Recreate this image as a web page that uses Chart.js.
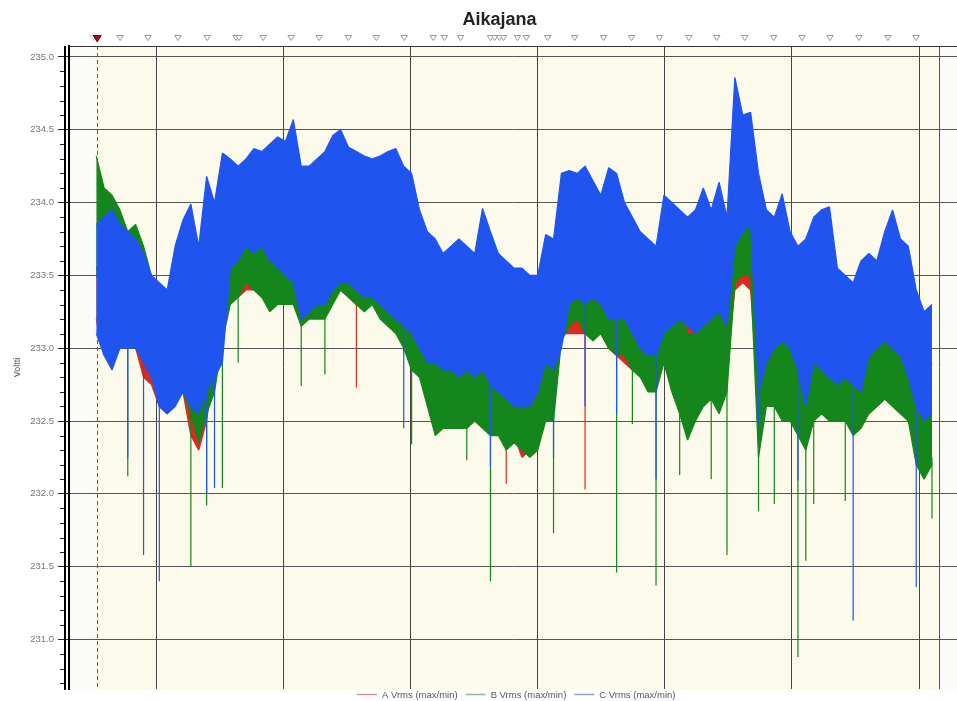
<!DOCTYPE html>
<html lang="fi">
<head>
<meta charset="utf-8">
<title>Aikajana</title>
<script src="https://cdn.jsdelivr.net/npm/chart.js@4.4.1/dist/chart.umd.min.js"></script>
<style>
  html, body { margin: 0; padding: 0; background: #ffffff; }
  #box { position: relative; width: 957px; height: 701px; }
</style>
</head>
<body>
<div id="box"><canvas id="chart" width="957" height="701"></canvas></div>
<script>
// Phase RMS voltages: one max/min pair per ~15 min interval, time in hours
const firstSample = 10.12;
const sampleStep = 0.248;

const aMax = [233.55,233.60,233.50,233.40,233.50,233.40,233.30,233.20,233.10,233.00,
  233.10,233.20,233.10,232.90,233.10,233.50,233.70,233.85,233.80,233.85,
  233.80,233.75,233.70,233.70,233.75,233.80,233.60,233.70,233.70,233.70,
  233.75,233.80,233.75,233.70,233.65,233.65,233.70,233.60,233.55,233.50,
  233.40,233.45,233.35,233.30,233.25,233.35,233.40,233.30,233.20,233.15,
  233.10,233.00,232.90,232.95,233.00,232.95,233.10,233.20,233.30,233.60,
  233.65,233.60,233.60,233.55,233.50,233.45,233.40,233.35,233.30,233.30,
  233.25,233.20,233.40,233.45,233.35,233.30,233.25,233.40,233.50,233.70,
  233.60,233.90,233.95,234.00,233.50,233.30,233.50,233.55,233.35,233.20,
  233.30,233.40,233.30,233.25,233.15,233.10,233.05,233.10,233.00,233.05,
  233.10,233.15,233.05,233.00,232.90,232.80,232.75];
const aMin = [233.20,232.95,233.00,233.10,233.05,233.00,232.80,232.75,232.60,232.55,
  232.70,232.70,232.40,232.30,232.50,232.90,233.10,233.40,233.35,233.40,
  233.40,233.35,233.30,233.35,233.35,233.30,233.20,233.30,233.30,233.25,
  233.35,233.40,233.35,233.30,233.30,233.35,233.25,233.20,233.15,233.05,
  232.95,232.90,232.80,232.75,232.70,232.75,232.70,232.75,232.70,232.65,
  232.50,232.45,232.40,232.40,232.25,232.30,232.40,232.50,232.60,233.10,
  233.10,233.10,233.10,233.10,233.10,233.00,232.95,232.90,232.85,232.85,
  232.80,232.80,232.95,232.90,232.85,232.80,232.75,232.80,232.85,232.90,
  232.90,233.40,233.45,233.40,232.60,232.70,232.80,232.75,232.70,232.55,
  232.60,232.70,232.70,232.65,232.60,232.60,232.55,232.60,232.55,232.60,
  232.65,232.70,232.65,232.60,232.40,232.30,232.25];
// short dips below the band: [interval index, lowest value]
const aDips = [[33,232.73],[52,232.07],[62,232.03]];

const bMax = [234.32,234.10,234.05,233.95,233.80,233.85,233.70,233.50,233.30,233.20,
  233.30,233.35,233.30,233.00,233.30,233.60,233.90,234.00,234.00,234.05,
  233.95,233.90,233.85,233.85,233.90,234.00,233.80,233.85,233.90,233.90,
  233.95,234.00,233.95,233.90,233.85,233.80,233.75,233.70,233.65,233.60,
  233.50,233.30,233.10,233.00,232.95,232.90,232.90,232.90,232.95,233.00,
  233.00,232.90,232.85,232.80,233.20,233.10,233.00,233.20,233.30,233.70,
  233.90,233.80,233.85,233.70,233.65,233.60,233.55,233.45,233.40,233.30,
  233.20,233.15,233.40,233.50,233.30,233.10,233.10,233.30,233.35,233.60,
  233.50,234.19,234.00,234.05,233.60,233.40,233.30,233.35,233.20,233.10,
  233.20,233.25,233.20,233.10,233.00,232.90,232.90,232.95,233.10,233.15,
  233.20,233.20,233.15,233.05,232.95,232.80,232.90];
const bMin = [233.50,233.40,233.30,233.25,233.20,233.20,233.00,232.90,232.60,232.60,
  232.65,232.70,232.55,232.35,232.55,232.70,233.05,233.30,233.35,233.45,
  233.40,233.35,233.25,233.30,233.30,233.30,233.15,233.20,233.20,233.20,
  233.30,233.40,233.35,233.30,233.25,233.30,233.20,233.15,233.10,233.00,
  232.85,232.80,232.60,232.40,232.45,232.45,232.45,232.45,232.50,232.45,
  232.40,232.40,232.30,232.35,232.30,232.25,232.30,232.50,232.50,233.05,
  233.15,233.20,233.10,233.05,233.10,233.00,232.95,232.95,232.85,232.80,
  232.70,232.70,232.90,232.70,232.55,232.37,232.50,232.60,232.65,232.55,
  232.70,233.45,233.50,233.50,232.25,232.60,232.60,232.50,232.50,232.40,
  232.30,232.50,232.55,232.50,232.50,232.50,232.40,232.45,232.55,232.60,
  232.65,232.60,232.55,232.50,232.20,232.10,232.20];
const bDips = [[4,232.12],[12,231.50],[14,231.92],[16,232.04],[18,232.90],[26,232.74],
  [29,232.82],[40,232.34],[47,232.23],[50,231.40],[58,231.73],[66,231.46],[68,232.48],
  [71,231.37],[74,232.13],[78,232.10],[80,231.58],[84,231.88],[86,231.93],[89,230.88],
  [90,231.54],[91,231.93],[95,231.95],[106,231.83]];

const cMax = [233.85,233.90,233.95,233.85,233.80,233.75,233.65,233.50,233.45,233.40,
  233.70,233.88,233.99,233.70,234.18,234.00,234.34,234.30,234.25,234.30,
  234.37,234.35,234.40,234.45,234.42,234.57,234.25,234.25,234.30,234.35,
  234.46,234.50,234.38,234.35,234.32,234.30,234.32,234.35,234.37,234.25,
  234.20,233.95,233.80,233.75,233.65,233.70,233.75,233.70,233.65,233.96,
  233.80,233.65,233.60,233.55,233.55,233.50,233.50,233.78,233.75,234.20,
  234.22,234.20,234.25,234.15,234.05,234.24,234.20,234.00,233.90,233.80,
  233.75,233.70,234.05,234.00,233.95,233.90,233.95,234.10,233.95,234.14,
  233.90,234.86,234.60,234.62,234.20,233.95,233.90,234.06,233.80,233.70,
  233.75,233.90,233.95,233.97,233.55,233.50,233.45,233.60,233.65,233.60,
  233.80,233.95,233.75,233.70,233.40,233.25,233.30];
const cMin = [233.10,232.95,232.85,233.00,233.00,233.00,232.90,232.80,232.60,232.55,
  232.60,232.70,232.60,232.55,232.70,232.80,232.90,233.55,233.60,233.70,
  233.65,233.70,233.60,233.55,233.50,233.45,233.20,233.25,233.30,233.30,
  233.40,233.45,233.45,233.40,233.35,233.35,233.30,233.25,233.20,233.15,
  233.10,233.00,232.90,232.90,232.85,232.85,232.80,232.85,232.80,232.85,
  232.75,232.70,232.65,232.60,232.60,232.60,232.70,232.90,232.85,233.00,
  233.30,233.35,233.30,233.35,233.30,233.20,233.20,233.20,233.10,233.00,
  232.95,232.95,233.10,233.15,233.20,233.15,233.10,233.15,233.20,233.25,
  233.15,233.70,233.80,233.85,232.70,232.90,233.00,233.05,233.00,232.85,
  232.60,232.90,232.85,232.80,232.75,232.80,232.75,232.70,232.95,233.00,
  233.05,233.00,232.95,232.80,232.60,232.50,232.55];
const cDips = [[4,232.25],[6,231.58],[8,231.40],[14,232.00],[15,232.04],[39,232.45],
  [50,232.19],[58,232.25],[62,232.60],[66,232.55],[71,232.10],[84,232.48],[89,232.09],
  [96,231.13],[104,231.36]];

const seriesNames = ['A Vrms (max/min)', 'B Vrms (max/min)', 'C Vrms (max/min)'];
const yTickValues = [231.0, 231.5, 232.0, 232.5, 233.0, 233.5, 234.0, 234.5, 235.0];
const gridHours = [12, 16, 20, 24, 28, 32, 36];
const eventHours = [10.01, 10.87, 11.75, 12.69, 13.61, 14.52, 14.61, 15.37, 16.25, 17.13,
  18.05, 18.93, 19.81, 20.72, 21.07, 21.58, 22.52, 22.65, 22.80, 22.93, 23.37, 23.65,
  24.32, 25.17, 26.08, 26.96, 27.84, 28.76, 29.64, 30.52, 31.43, 32.32, 33.20, 34.11,
  35.02, 35.91];
const activeEvent = 10.15;
const cursorHour = 10.13;
const recordStart = 10.11;
const recordEnd = 36.63;

const hourOf = i => firstSample + i * sampleStep;

function trace(vals) {
  return vals.map((v, i) => ({ x: hourOf(i), y: v }));
}

// vertical strokes from the band floor down to each dip
function dipTrace(dips, floor) {
  const pts = [];
  dips.forEach(([i, v]) => {
    const t = hourOf(i);
    pts.push({ x: t, y: floor[i] + 0.05 }, { x: t, y: v }, { x: t, y: null });
  });
  return pts;
}

const lineColors = ['#dc2a20', '#15861b', '#1f55ee'];
const legendColors = ['#d49a96', '#8fbc8f', '#8e9cc8'];
const FONT = '"Liberation Sans", Arial, sans-serif';

const backdrop = {
  id: 'backdrop',
  beforeDraw(chart) {
    const { ctx, chartArea: a, scales: { x } } = chart;
    ctx.save();
    ctx.fillStyle = '#ffffff';
    ctx.fillRect(0, 0, chart.width, chart.height);
    ctx.fillStyle = '#fbfbf7';
    ctx.fillRect(a.left, a.top, a.right - a.left, a.bottom - a.top);
    const x0 = x.getPixelForValue(recordStart);
    const x1 = x.getPixelForValue(recordEnd);
    ctx.fillStyle = '#fcfaea';
    ctx.fillRect(x0, a.top, x1 - x0, a.bottom - a.top);
    // end of recording
    ctx.strokeStyle = '#555';
    ctx.lineWidth = 1;
    ctx.beginPath();
    ctx.moveTo(Math.round(x1) + 0.5, a.top);
    ctx.lineTo(Math.round(x1) + 0.5, a.bottom);
    ctx.stroke();
    ctx.restore();
  }
};

const overlay = {
  id: 'overlay',
  afterDatasetsDraw(chart) {
    const { ctx, chartArea: a, scales: { x, y } } = chart;
    ctx.save();
    // cursor
    const cx = Math.round(x.getPixelForValue(cursorHour)) + 0.5;
    ctx.strokeStyle = '#c0392b';
    ctx.lineWidth = 1;
    ctx.setLineDash([4, 3]);
    ctx.beginPath();
    ctx.moveTo(cx, a.top);
    ctx.lineTo(cx, a.bottom);
    ctx.stroke();
    ctx.setLineDash([]);
    // top frame line
    ctx.strokeStyle = '#333';
    ctx.beginPath();
    ctx.moveTo(a.left, a.top + 0.5);
    ctx.lineTo(a.right, a.top + 0.5);
    ctx.stroke();
    // minor ticks every 0.1 V
    ctx.strokeStyle = '#222';
    for (let k = 2307; k <= 2350; k++) {
      if (k % 5 === 0) continue;
      const py = Math.round(y.getPixelForValue(k / 10)) + 0.5;
      ctx.beginPath();
      ctx.moveTo(a.left - 9, py);
      ctx.lineTo(a.left - 4, py);
      ctx.stroke();
    }
    // double axis rule
    ctx.fillStyle = '#000';
    ctx.fillRect(a.left - 5, a.top, 2, a.bottom - a.top + 1);
    ctx.restore();
  },
  afterDraw(chart) {
    const { ctx, scales: { x } } = chart;
    ctx.save();
    // event markers
    const tri = (hx, size, fill, stroke) => {
      const px = x.getPixelForValue(hx);
      ctx.beginPath();
      ctx.moveTo(px - size, 35.5);
      ctx.lineTo(px + size, 35.5);
      ctx.lineTo(px, 35.5 + size * 1.6);
      ctx.closePath();
      ctx.fillStyle = fill;
      ctx.fill();
      ctx.strokeStyle = stroke;
      ctx.lineWidth = 1;
      ctx.stroke();
    };
    eventHours.forEach((h, i) => tri(h, 3.2, '#ffffff', i === 0 ? '#cfcfcf' : '#9a9a9a'));
    tri(activeEvent, 4, '#a40d0d', '#7a0000');
    // title
    ctx.fillStyle = '#222';
    ctx.font = 'bold 18px ' + FONT;
    ctx.textAlign = 'center';
    ctx.textBaseline = 'alphabetic';
    ctx.fillText('Aikajana', 499.5, 24.6);
    // legend
    ctx.font = '9.5px ' + FONT;
    ctx.textAlign = 'left';
    ctx.textBaseline = 'middle';
    let lx = 357;
    const ly = 694;
    seriesNames.forEach((name, i) => {
      ctx.strokeStyle = legendColors[i];
      ctx.lineWidth = 1.5;
      ctx.beginPath();
      ctx.moveTo(lx, ly + 0.5);
      ctx.lineTo(lx + 20, ly + 0.5);
      ctx.stroke();
      ctx.fillStyle = '#555';
      ctx.fillText(name, lx + 25, ly + 1);
      lx += 25 + ctx.measureText(name).width + 8;
    });
    ctx.restore();
  }
};

const common = { pointRadius: 0, tension: 0, borderJoinStyle: 'bevel' };
function phase(i, maxVals, minVals, dips, order) {
  const c = lineColors[i];
  return [
    Object.assign({ label: seriesNames[i], data: trace(maxVals), borderColor: c,
      borderWidth: 1.2, backgroundColor: c, fill: '+1', order: order }, common),
    Object.assign({ label: seriesNames[i], data: trace(minVals), borderColor: c,
      borderWidth: 1.2, fill: false, order: order }, common),
    Object.assign({ label: seriesNames[i], data: dipTrace(dips, minVals), borderColor: c,
      borderWidth: 1.2, fill: false, spanGaps: false, order: order }, common)
  ];
}

new Chart(document.getElementById('chart'), {
  type: 'line',
  data: {
    datasets: [
      ...phase(0, aMax, aMin, aDips, 3),
      ...phase(1, bMax, bMin, bDips, 2),
      ...phase(2, cMax, cMin, cDips, 1)
    ]
  },
  options: {
    responsive: false,
    animation: false,
    devicePixelRatio: 1,
    events: [],
    layout: { padding: { top: 46, bottom: 12, left: 0, right: 0 } },
    plugins: {
      legend: { display: false },
      title: { display: false },
      tooltip: { enabled: false },
      filler: { propagate: false }
    },
    scales: {
      x: {
        type: 'linear',
        min: 9.263,
        max: 37.195,
        afterBuildTicks: s => { s.ticks = gridHours.map(v => ({ value: v })); },
        afterFit: s => { s.height = 0; },
        ticks: { display: false },
        grid: { color: '#444', lineWidth: 1, drawTicks: false },
        border: { display: false }
      },
      y: {
        type: 'linear',
        min: 230.66,
        max: 235.075,
        afterBuildTicks: s => { s.ticks = yTickValues.map(v => ({ value: v })); },
        afterFit: s => { s.width = 69; },
        ticks: {
          callback: v => Number(v).toFixed(1),
          font: { family: FONT, size: 9.5 },
          color: '#777',
          padding: 4
        },
        grid: { color: '#555', lineWidth: 1, drawTicks: true, tickLength: 11, tickColor: '#222' },
        border: { display: true, color: '#000', width: 2 },
        title: {
          display: true,
          text: 'Voltti',
          font: { family: FONT, size: 9 },
          color: '#555',
          padding: { top: 12, bottom: 0 }
        }
      }
    }
  },
  plugins: [backdrop, overlay]
});
</script>
</body>
</html>
